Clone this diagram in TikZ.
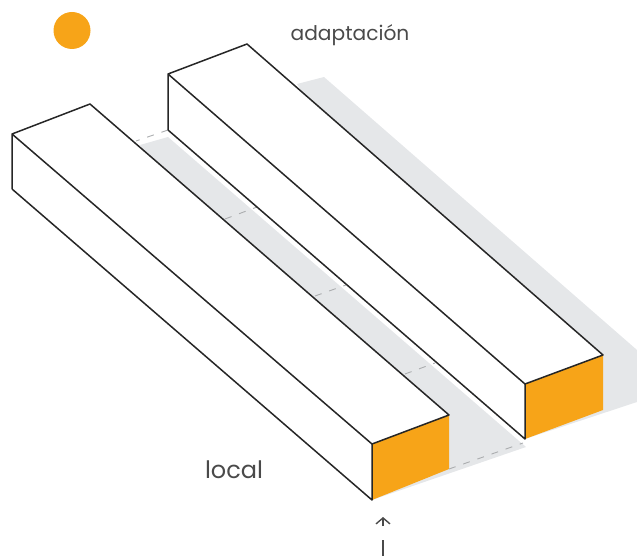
\documentclass[tikz,border=0pt]{standalone}
\usepackage{fontspec}
\setmainfont{Poppins}
\definecolor{facecol}{HTML}{F7A418}
\definecolor{shadecol}{HTML}{E5E7E9}
\definecolor{dashcol}{HTML}{ABADAF}
\definecolor{textcol}{HTML}{4A4A4A}
\usetikzlibrary{arrows.meta}
\begin{document}
\begin{tikzpicture}[x=1pt, y=-1pt,
    edge/.style={draw=black!85, line width=1.5pt, line join=round},
    hidden/.style={draw=dashcol, line width=.9pt, dash pattern=on 7pt off 8pt},
    caption/.style={text=textcol, inner sep=0pt}]
  \useasboundingbox (0, 0) rectangle (637, 556);

  \fill[shadecol] (297, 84) -- (324, 77) -- (637, 350) -- (637, 402) -- (525, 439) -- cycle;
  \fill[shadecol] (140, 145) -- (168, 137) -- (526, 447) -- (372, 500) -- cycle;

  \coordinate (a) at (12, 134);
  \coordinate (b) at (90, 104);
  \coordinate (c) at (449, 415);
  \coordinate (d) at (372, 444);
  \coordinate (e) at (372, 500);
  \coordinate (f) at (449, 469);
  \coordinate (g) at (12, 189);

  \coordinate (h) at (168, 74);
  \coordinate (i) at (247, 44);
  \coordinate (j) at (603, 355);
  \coordinate (k) at (525, 384);
  \coordinate (l) at (525, 439);
  \coordinate (m) at (603, 410);
  \coordinate (n) at (168, 130);

  \fill[white] (a) -- (b) -- (c) -- (d) -- (e) -- (g) -- cycle;
  \fill[white] (h) -- (i) -- (j) -- (k) -- (l) -- (n) -- cycle;
  \fill[facecol] (d) -- (c) -- (f) -- (e) -- cycle;
  \fill[facecol] (k) -- (j) -- (m) -- (l) -- cycle;

  \draw[hidden] (n) -- (136, 141);
  \draw[hidden] (225, 219) -- (257, 207);
  \draw[hidden] (315, 296) -- (346, 285);
  \draw[hidden] (405, 374) -- (435, 363);
  \draw[hidden] (f) -- (523, 443);

  \draw[edge] (g) -- (a) -- (b) -- (c) -- (d) -- (a);
  \draw[edge] (d) -- (e) -- (g);
  \draw[edge] (n) -- (h) -- (i) -- (j) -- (k) -- (h);
  \draw[edge] (k) -- (l) -- (n);

  \node[circle, fill=facecol, minimum size=37pt, inner sep=0pt] (sun) at (72, 30.5) {};
  \node[caption, font=\fontsize{20.2}{24}\selectfont] (adapt) at (350, 35) {adaptación};
  \node[caption, font=\fontsize{24}{28}\selectfont] (local) at (234, 470) {local};

  \coordinate (tip) at (383, 517);
  \coordinate (tail) at (383, 526);
  \coordinate (s) at (383, 540);
  \coordinate (t) at (383, 556);
  \draw[textcol, line width=1.4pt, -{Straight Barb[length=6pt, width=14pt]}] (tail) -- (tip);
  \draw[textcol, line width=1.4pt] (s) -- (t);
\end{tikzpicture}
\end{document}
